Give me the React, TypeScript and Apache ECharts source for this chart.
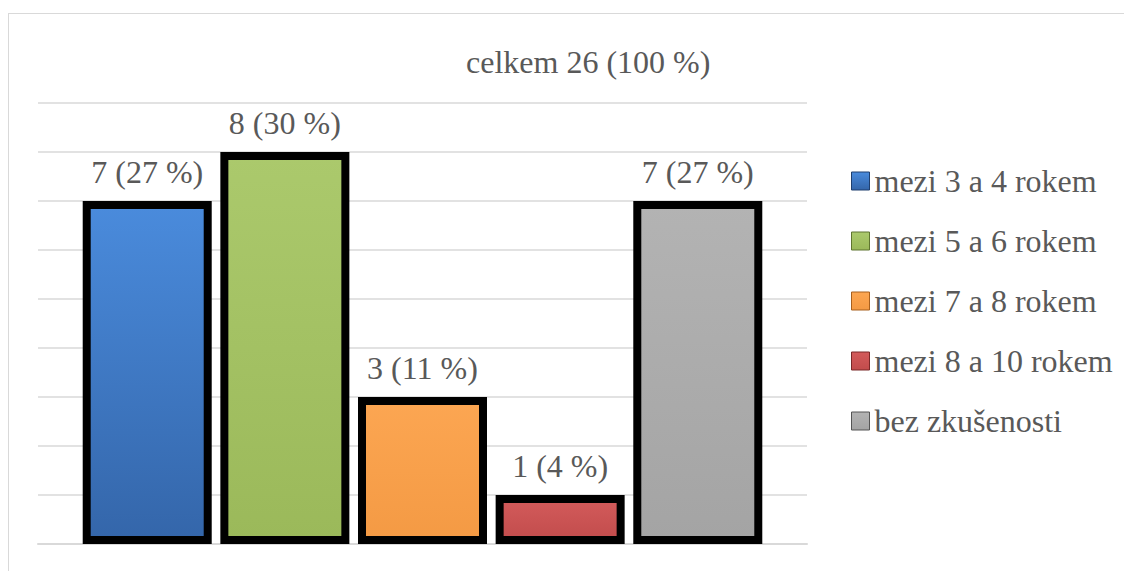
import React, { useEffect, useRef } from "react";
import * as echarts from "echarts";

const seriesNames = [
  "mezi 3 a 4 rokem",
  "mezi 5 a 6 rokem",
  "mezi 7 a 8 rokem",
  "mezi 8 a 10 rokem",
  "bez zkušenosti",
];
const counts = [7, 8, 3, 1, 7];
const percents = [27, 30, 11, 4, 27];
const total = 26;
const totalPercent = 100;
const categories = ["celkem"];
const yTicks = [0, 9, 1]; // min, max, interval

const topColors = ["#4a8bdc", "#abc96c", "#fca652", "#d35b5b", "#b3b3b3"];
const bottomColors = ["#3466aa", "#9bb95a", "#f49a44", "#c24c4c", "#a4a4a4"];
const legendBorders = ["#1f3f6e", "#5f7530", "#a8601e", "#7a2828", "#555555"];

const FONT = "Liberation Serif";
const TEXT = "#595959";

export default function App() {
  const ref = useRef<HTMLDivElement>(null);
  useEffect(() => {
    if (!ref.current) return;
    const chart = echarts.init(ref.current, undefined, { renderer: "svg" });
    const series = seriesNames.map((name, i) => ({
      name,
      type: "bar",
      data: [counts[i]],
      barWidth: 129,
      barGap: "6.7%",
      itemStyle: {
        color: new echarts.graphic.LinearGradient(0, 0, 0, 1, [
          { offset: 0, color: topColors[i] },
          { offset: 1, color: bottomColors[i] },
        ]),
        borderColor: "#000000",
        borderWidth: 8,
      },
      label: {
        show: true,
        position: "top",
        distance: 13,
        formatter: `${counts[i]} (${percents[i]} %)`,
        fontFamily: FONT,
        fontSize: 32,
        color: TEXT,
      },
    }));
    chart.setOption({
      animation: false,
      textStyle: { fontFamily: FONT },
      title: {
        text: `celkem ${total} (${totalPercent} %)`,
        left: 466,
        top: 46,
        textStyle: {
          fontFamily: FONT,
          fontSize: 32,
          fontWeight: "normal",
          color: TEXT,
        },
        padding: 0,
      },
      legend: {
        orient: "vertical",
        left: 851,
        top: 165,
        padding: 0,
        itemWidth: 18,
        itemHeight: 18,
        itemGap: 28,
        itemTextGap: 6,
        icon: "rect",
        data: seriesNames.map((n, i) => ({
          name: n,
          itemStyle: { borderColor: legendBorders[i], borderWidth: 1 },
        })),
        textStyle: {
          fontFamily: FONT,
          fontSize: 32,
          color: TEXT,
        },
      },
      grid: { left: 38, right: 325, top: 103, bottom: 27, containLabel: false },
      xAxis: {
        type: "category",
        data: categories,
        axisLabel: { show: false },
        axisTick: { show: false },
        axisLine: { lineStyle: { color: "#d9d9d9", width: 2 } },
      },
      yAxis: {
        type: "value",
        min: yTicks[0],
        max: yTicks[1],
        interval: yTicks[2],
        axisLabel: { show: false },
        axisLine: { show: false },
        axisTick: { show: false },
        splitLine: { lineStyle: { color: "#d9d9d9", width: 1.5 } },
      },
      series,
    });
    return () => chart.dispose();
  }, []);
  return (
    <div style={{ position: "relative", marginLeft: -8, marginTop: -8, width: 1132, height: 571, overflow: "hidden", fontFamily: FONT }}>
      <div ref={ref} style={{ width: 1132, height: 571 }} />
      <div
        style={{
          position: "absolute",
          left: 8,
          top: 13,
          width: 1300,
          height: 700,
          border: "1.5px solid #d9d9d9",
          pointerEvents: "none",
        }}
      />
    </div>
  );
}
